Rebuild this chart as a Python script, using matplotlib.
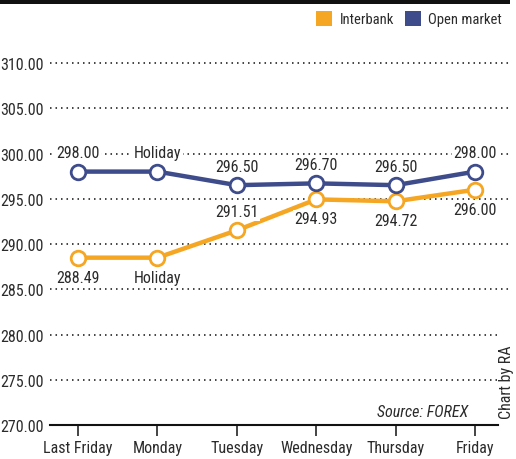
import matplotlib
matplotlib.use("Agg")
import matplotlib.pyplot as plt
from matplotlib.patches import Rectangle

days = ["Last Friday", "Monday", "Tuesday", "Wednesday", "Thursday", "Friday"]
interbank = [288.49, 288.49, 291.51, 294.93, 294.72, 296.00]
open_market = [298.00, 298.00, 296.50, 296.70, 296.50, 298.00]
interbank_labels = ["288.49", "Holiday", "291.51", "294.93", "294.72", "296.00"]
open_labels = ["298.00", "Holiday", "296.50", "296.70", "296.50", "298.00"]
interbank_above = [False, False, True, False, False, False]
y_ticks = [270, 275, 280, 285, 290, 295, 300, 305, 310]
y_tick_labels = ["270.00", "275.00", "280.00", "285.00", "290.00", "295.00", "300.00", "305.00", "310.00"]

FONT = ["Roboto Condensed", "Liberation Sans", "DejaVu Sans"]
plt.rcParams["font.family"] = FONT

ORANGE = "#F5A623"
NAVY = "#3E4C8B"
TXT = "#2b2b2b"
FS = 11.5

W, H = 516, 460
fig = plt.figure(figsize=(W / 100, H / 100), dpi=100)
fig.patch.set_facecolor("white")

y0_px, top_px = 426, 426 - 41 * 9.05
ax = fig.add_axes([50 / W, (H - y0_px) / H, 460 / W, (y0_px - top_px) / H])
ax.set_facecolor("white")
x = list(range(len(days)))
ax.set_xlim(-0.353, 5.44)
ax.set_ylim(270, 311)

# grid lines
for v in y_ticks[1:]:
    xmax = 0.972 if v < 285 else 1.0
    ax.axhline(v, xmin=0, xmax=xmax, color="#111111", lw=1.1,
               linestyle=(0, (1, 2.6)), zorder=1)

for s in ["top", "right", "left"]:
    ax.spines[s].set_visible(False)
ax.spines["bottom"].set_color("#111111")
ax.spines["bottom"].set_linewidth(1.5)
ax.spines["bottom"].set_bounds(-0.353, 5.283)

ax.set_xticks(x)
ax.set_xticklabels(days, fontsize=FS, color=TXT)
ax.tick_params(axis="x", length=8, width=1.1, color="#111111", pad=3)
ax.set_yticks(y_ticks)
ax.set_yticklabels(y_tick_labels, fontsize=FS, color=TXT)
ax.tick_params(axis="y", length=0, pad=4.5)

mk = dict(marker="o", markersize=10.5, markerfacecolor="white", markeredgewidth=2.0)
ax.plot(x, interbank, color=ORANGE, lw=3.2, markeredgecolor=ORANGE, zorder=3, **mk)
ax.plot(x, open_market, color=NAVY, lw=3.2, markeredgecolor=NAVY, zorder=4, **mk)

bb = dict(boxstyle="square,pad=0.1", fc="white", ec="none")
for xi, v, lab in zip(x, open_market, open_labels):
    ax.annotate(lab, (xi, v), xytext=(0, 13.5), textcoords="offset points",
                ha="center", va="center", fontsize=FS, color=TXT, bbox=bb, zorder=5)
for xi, v, lab, up in zip(x, interbank, interbank_labels, interbank_above):
    ax.annotate(lab, (xi, v), xytext=(0, 13.5 if up else -14), textcoords="offset points",
                ha="center", va="center", fontsize=FS, color=TXT, bbox=bb, zorder=5)

# source and credit
fig.text(468 / W, 1 - 413 / H, "Source: FOREX", ha="right", va="center",
         fontsize=11.5, style="italic", color=TXT)
fig.text(506 / W, 1 - 382 / H, "Chart by RA", ha="center", va="center",
         rotation=90, fontsize=11.5, color=TXT)

# top black bar
fig.patches.append(Rectangle((0, 1 - 5 / H), 510 / W, 5 / H, transform=fig.transFigure,
                             facecolor="#111111", edgecolor="none"))

# legend
fig.patches.append(Rectangle((316 / W, 1 - 27 / H), 16 / W, 15 / H, transform=fig.transFigure,
                             facecolor=ORANGE, edgecolor="none"))
fig.text(340 / W, 1 - 20 / H, "Interbank", ha="left", va="center", fontsize=10.5, color=TXT)
fig.patches.append(Rectangle((405 / W, 1 - 27 / H), 16 / W, 15 / H, transform=fig.transFigure,
                             facecolor=NAVY, edgecolor="none"))
fig.text(428 / W, 1 - 20 / H, "Open market", ha="left", va="center", fontsize=10.5, color=TXT)

fig.savefig("out.png", dpi=100, facecolor="white")
